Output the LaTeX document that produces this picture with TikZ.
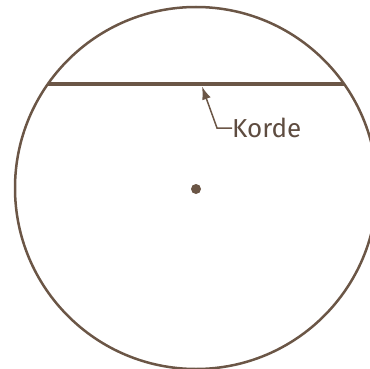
\documentclass[tikz,border=0pt]{standalone}
\usepackage{fontspec}
\setmainfont{Fira Sans}
\usetikzlibrary{arrows.meta}
\definecolor{brn}{HTML}{6B5646}
\definecolor{txt}{HTML}{5E4C40}
\tikzset{
  rim/.style={draw=brn, line width=2.5pt},
  chordline/.style={draw=brn, line width=4.5pt},
  pointer/.style={draw=brn, line width=1.5pt, -{Latex[length=13pt,width=9pt]}},
  lbl/.style={anchor=west, text=txt, inner sep=0pt, font=\fontsize{26}{26}\selectfont}
}
\begin{document}
\begin{tikzpicture}[x=1pt,y=-1pt]
\useasboundingbox (0,0) rectangle (369,369);
\coordinate (O) at (196,188);
\draw[rim] (O) circle (181pt);
\coordinate (A) at (47.9,84);
\coordinate (B) at (344.1,84);
\draw[chordline] (A) -- (B);
\fill[brn] (196,189) circle (5pt);
\node[lbl] (k) at (232,128) {Korde};
\coordinate (e) at (217,128);
\coordinate (t) at (202,86.5);
\draw[pointer] (k.west) -- (e) -- (t);
\end{tikzpicture}
\end{document}
